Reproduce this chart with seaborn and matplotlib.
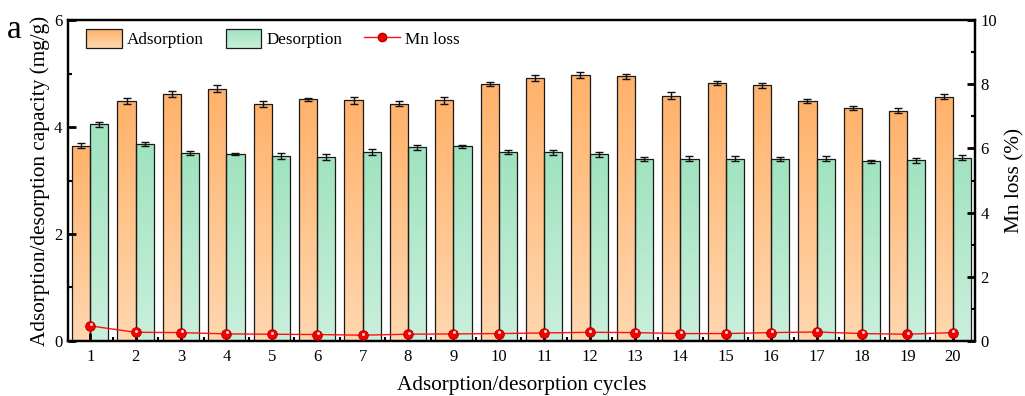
import numpy as np
import pandas as pd
import matplotlib
matplotlib.use("Agg")
import matplotlib.pyplot as plt
import seaborn as sns
from matplotlib.colors import LinearSegmentedColormap
from matplotlib.patches import Patch, Rectangle
from matplotlib.lines import Line2D
from matplotlib.ticker import MultipleLocator
from matplotlib.legend_handler import HandlerBase
from matplotlib.image import BboxImage
from matplotlib.transforms import Bbox, TransformedBbox, ScaledTranslation

cycles = [str(i) for i in range(1, 21)]
adsorption = [3.65, 4.49, 4.62, 4.72, 4.43, 4.52, 4.50, 4.44, 4.50, 4.80,
              4.92, 4.97, 4.95, 4.59, 4.82, 4.78, 4.49, 4.36, 4.31, 4.57]
adsorption_err = [0.05, 0.05, 0.06, 0.06, 0.05, 0.03, 0.06, 0.04, 0.06, 0.04,
                  0.06, 0.06, 0.05, 0.06, 0.04, 0.05, 0.04, 0.04, 0.05, 0.05]
desorption = [4.05, 3.68, 3.51, 3.50, 3.46, 3.44, 3.53, 3.62, 3.64, 3.53,
              3.53, 3.49, 3.40, 3.41, 3.41, 3.40, 3.41, 3.36, 3.38, 3.43]
desorption_err = [0.04, 0.04, 0.04, 0.02, 0.05, 0.05, 0.06, 0.05, 0.03, 0.04,
                  0.05, 0.04, 0.04, 0.05, 0.05, 0.04, 0.05, 0.03, 0.05, 0.04]
mn_loss = [0.47, 0.27, 0.26, 0.22, 0.21, 0.20, 0.18, 0.21, 0.22, 0.23,
           0.25, 0.27, 0.26, 0.23, 0.23, 0.26, 0.28, 0.23, 0.21, 0.26]

plt.rcParams['font.family'] = ['Liberation Serif', 'DejaVu Serif']

df = pd.DataFrame({
    'cycle': cycles * 2,
    'value': adsorption + desorption,
    'kind': ['Adsorption'] * 20 + ['Desorption'] * 20,
})

ads_top, ads_bot = '#FFB26A', '#FFD7B0'
des_top, des_bot = '#A0E3BF', '#CAEFDC'
edge = '#1a1a1a'

fig = plt.figure(figsize=(10.25, 3.96), dpi=100)
ax = fig.add_axes([0.0663, 0.139, 0.8849, 0.810])
sns.barplot(data=df, x='cycle', y='value', hue='kind', order=cycles,
            hue_order=['Adsorption', 'Desorption'],
            palette=[ads_top, des_top], width=0.8, errorbar=None,
            edgecolor=edge, linewidth=0.9, legend=False, ax=ax)

cmaps = {
    0: LinearSegmentedColormap.from_list('a', [ads_bot, ads_top]),
    1: LinearSegmentedColormap.from_list('d', [des_bot, des_top]),
}
grad = np.linspace(0, 1, 256).reshape(-1, 1)
n = len(cycles)
patches = list(ax.patches)[:2 * n]
for i, p in enumerate(patches):
    grp = i // n
    x0, y0 = p.get_x(), p.get_y()
    w, h = p.get_width(), p.get_height()
    im = ax.imshow(grad, extent=[x0, x0 + w, y0, y0 + h], origin='lower',
                   cmap=cmaps[grp], aspect='auto', zorder=p.get_zorder() + 0.1,
                   interpolation='bicubic')
    im.set_clip_path(p)
    p.set_facecolor('none')
    p.set_zorder(p.get_zorder() + 0.2)

errs = adsorption_err + desorption_err
vals = adsorption + desorption
for i, p in enumerate(patches):
    cx = p.get_x() + p.get_width() / 2
    ax.errorbar(cx, vals[i], yerr=errs[i], fmt='none', ecolor='#111111',
                elinewidth=1.0, capsize=3, capthick=1.0, zorder=5)

ax.set_xlim(-0.49, 19.49)
ax.set_ylim(0, 6)
ax.set_xticks(range(n))
ax.set_xticklabels(cycles)
ax.xaxis.set_minor_locator(MultipleLocator(0.5))
ax.yaxis.set_major_locator(MultipleLocator(2))
ax.yaxis.set_minor_locator(MultipleLocator(1))
ax.tick_params(axis='x', which='major', direction='in', length=6, width=2,
               labelsize=12, pad=6)
ax.tick_params(axis='x', which='minor', direction='in', length=3, width=1.5)
ax.tick_params(axis='y', which='major', direction='in', length=6, width=2,
               labelsize=12, pad=4)
ax.tick_params(axis='y', which='minor', direction='in', length=3, width=1.5)
ax.set_xlabel('Adsorption/desorption cycles', fontsize=15.3, labelpad=8)
ax.set_ylabel('Adsorption/desorption capacity (mg/g)', fontsize=15.3, labelpad=3)
for s in ax.spines.values():
    s.set_linewidth(1.6)
    s.set_color('black')

ax2 = ax.twinx()
ax2.plot(range(n), mn_loss, color='#FF1010', linewidth=1.0, marker='o',
         markersize=7, markerfacecolor='#F50000', markeredgecolor='#B00000',
         markeredgewidth=0.6, zorder=6)
hl = ScaledTranslation(0.5 / 72, 1.2 / 72, fig.dpi_scale_trans)
ax2.plot(range(n), mn_loss, linestyle='none', marker='o', markersize=2.2,
         markerfacecolor='#FFD0D0', markeredgecolor='none', zorder=7,
         transform=ax2.transData + hl)
ax2.set_ylim(0, 10)
ax2.set_xlim(-0.49, 19.49)
ax2.yaxis.set_major_locator(MultipleLocator(2))
ax2.yaxis.set_minor_locator(MultipleLocator(1))
ax2.tick_params(axis='y', which='major', direction='in', length=6, width=2,
                labelsize=12, pad=4)
ax2.tick_params(axis='y', which='minor', direction='in', length=3, width=1.5)
ax2.set_ylabel('Mn loss (%)', fontsize=15.3, labelpad=6)
for s in ax2.spines.values():
    s.set_linewidth(1.6)
    s.set_color('black')


class GradientHandler(HandlerBase):
    def __init__(self, cmap):
        super().__init__()
        self.cmap = cmap

    def create_artists(self, legend, orig_handle, xdescent, ydescent,
                       width, height, fontsize, trans):
        bb = TransformedBbox(Bbox.from_bounds(-xdescent, -ydescent, width, height), trans)
        img = BboxImage(bb, cmap=self.cmap, interpolation='bicubic', origin='lower')
        img.set_data(grad)
        rect = Rectangle((-xdescent, -ydescent), width, height, facecolor='none',
                         edgecolor=edge, linewidth=0.9, transform=trans)
        return [img, rect]


h_ads = Patch(facecolor=ads_top, label='Adsorption')
h_des = Patch(facecolor=des_top, label='Desorption')
h_mn = Line2D([0], [0], color='#FF1010', linewidth=1.0, marker='o', markersize=6,
              markerfacecolor='#F50000', markeredgecolor='#B00000', label='Mn loss')
ax2.legend(handles=[h_ads, h_des, h_mn], loc='upper left', ncol=3, frameon=False,
           fontsize=12.3, bbox_to_anchor=(0.005, 1.015), handlelength=2.1,
           handleheight=1.3, columnspacing=1.25, handletextpad=0.3,
           borderaxespad=0.4,
           handler_map={h_ads: GradientHandler(cmaps[0]),
                        h_des: GradientHandler(cmaps[1])})

fig.text(0.007, 0.905, 'a', fontsize=24)

fig.savefig('out.png', dpi=100)
